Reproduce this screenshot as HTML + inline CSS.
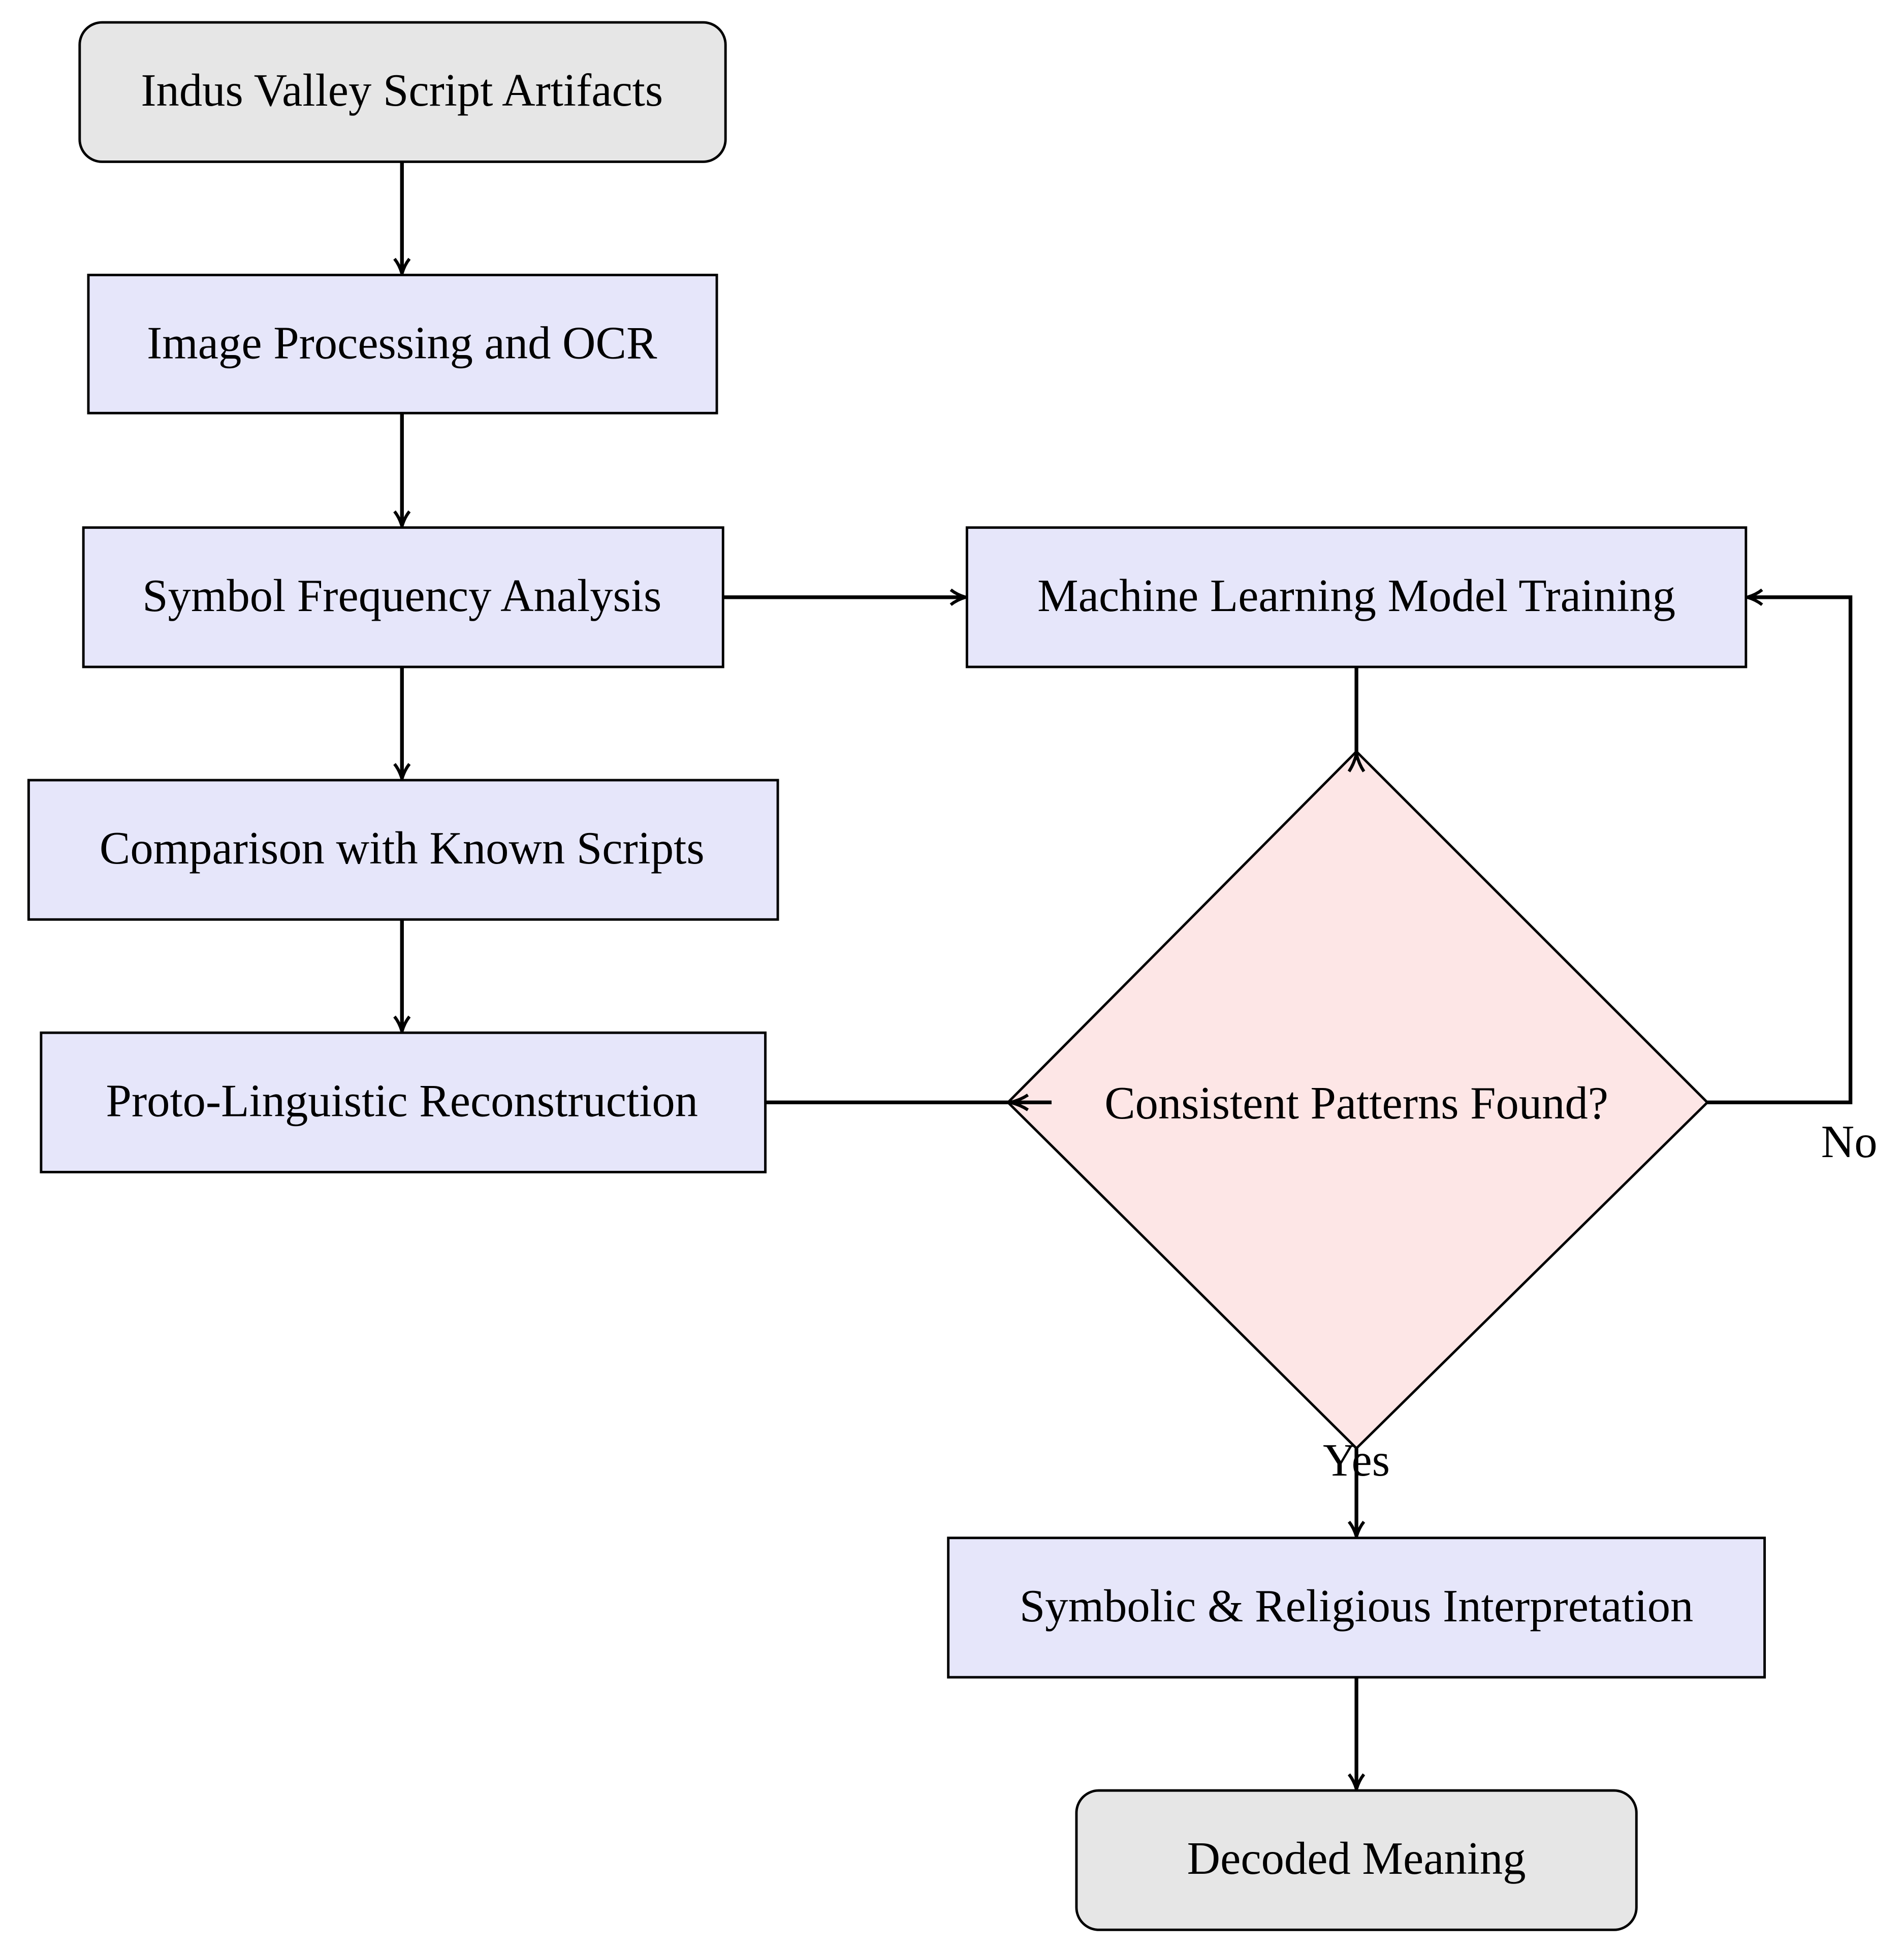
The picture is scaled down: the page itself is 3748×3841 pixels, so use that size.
<!DOCTYPE html>
<html><head><meta charset="utf-8"><style>html,body{margin:0;padding:0;background:#fff}svg{display:block}</style></head>
<body>
<svg width="3748" height="3841" viewBox="0 0 1530 1568" xmlns="http://www.w3.org/2000/svg">
<defs>
<marker id="a" markerWidth="14" markerHeight="14" refX="12" refY="7" orient="auto" markerUnits="userSpaceOnUse">
<path d="M1,1 Q6,5 13,7 Q6,9 1,13" fill="none" stroke="#000" stroke-width="2.5"/>
</marker>
</defs>
<g font-family="'Liberation Serif', serif" font-size="37" text-anchor="middle" fill="#000">
<g stroke="#000" stroke-width="2">
<rect x="64" y="18" width="519" height="112" rx="18" fill="#e6e6e6"/>
<rect x="71" y="221" width="505" height="111" fill="#e6e6fa"/>
<rect x="67" y="424" width="514" height="112" fill="#e6e6fa"/>
<rect x="23" y="627" width="602" height="112" fill="#e6e6fa"/>
<rect x="33" y="830" width="582" height="112" fill="#e6e6fa"/>
<rect x="777" y="424" width="626" height="112" fill="#e6e6fa"/>
<polygon points="1090,604 1372,886 1090,1164 810,886" fill="#fde6e6"/>
<rect x="762" y="1236" width="656" height="112" fill="#e6e6fa"/>
<rect x="865" y="1439" width="450" height="112" rx="18" fill="#e6e6e6"/>
</g>
<g stroke="#000" stroke-width="3" fill="none">
<line x1="323" y1="130" x2="323" y2="219" marker-end="url(#a)"/>
<line x1="323" y1="332" x2="323" y2="422" marker-end="url(#a)"/>
<line x1="323" y1="536" x2="323" y2="625" marker-end="url(#a)"/>
<line x1="323" y1="739" x2="323" y2="828" marker-end="url(#a)"/>
<line x1="581" y1="480" x2="775" y2="480" marker-end="url(#a)"/>
<line x1="1090" y1="536" x2="1090" y2="606"/>
<path d="M1084,620 Q1088,614 1090,606 Q1092,614 1096,620" stroke-width="2.5"/>
<line x1="615" y1="886" x2="812" y2="886"/>
<path d="M826,880 Q820,884 812,886 Q820,888 826,892" stroke-width="2.5"/>
<line x1="812" y1="886" x2="845" y2="886"/>
<polyline points="1372,886 1487,886 1487,480 1405,480" marker-end="url(#a)"/>
<line x1="1090" y1="1164" x2="1090" y2="1234" marker-end="url(#a)"/>
<line x1="1090" y1="1348" x2="1090" y2="1437" marker-end="url(#a)"/>
</g>
<text x="323" y="85">Indus Valley Script Artifacts</text>
<text x="323" y="288">Image Processing and OCR</text>
<text x="323" y="491">Symbol Frequency Analysis</text>
<text x="323" y="694">Comparison with Known Scripts</text>
<text x="323" y="897">Proto-Linguistic Reconstruction</text>
<text x="1090" y="491">Machine Learning Model Training</text>
<text x="1090" y="899">Consistent Patterns Found?</text>
<text x="1090" y="1303">Symbolic &amp; Religious Interpretation</text>
<text x="1090" y="1506">Decoded Meaning</text>
<text x="1486" y="930">No</text>
<text x="1090" y="1186">Yes</text>
</g>
</svg>
</body></html>
